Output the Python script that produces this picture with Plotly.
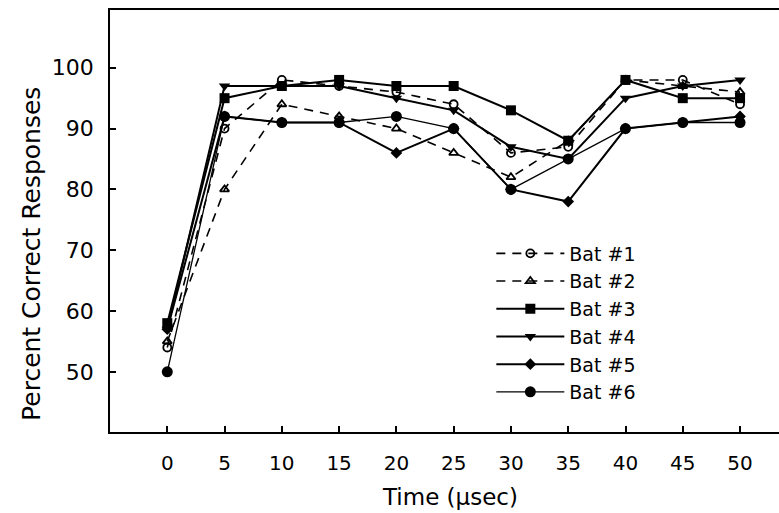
import plotly.graph_objects as go

# Time after onset (microseconds)
time_us = [0, 5, 10, 15, 20, 25, 30, 35, 40, 45, 50]

# Percent correct responses per bat
bat1 = [54, 90, 98, 97, 96, 94, 86, 87, 98, 98, 94]
bat2 = [55, 80, 94, 92, 90, 86, 82, 88, 98, 97, 96]
bat3 = [58, 95, 97, 98, 97, 97, 93, 88, 98, 95, 95]
bat4 = [57, 97, 97, 97, 95, 93, 87, 85, 95, 97, 98]
bat5 = [57, 92, 91, 91, 86, 90, 80, 78, 90, 91, 92]
bat6 = [50, 92, 91, 91, 92, 90, 80, 85, 90, 91, 91]

x_ticks = [0, 5, 10, 15, 20, 25, 30, 35, 40, 45, 50]
y_ticks = [50, 60, 70, 80, 90, 100]

x_title = "Time (μsec)"
y_title = "Percent Correct Responses"

series = [
    ("Bat #1", bat1, "circle-open", "9px,7px", 1.6, 8),
    ("Bat #2", bat2, "triangle-up-open", "9px,7px", 1.6, 8),
    ("Bat #3", bat3, "square", "solid", 2.0, 10),
    ("Bat #4", bat4, "triangle-down", "solid", 2.0, 10),
    ("Bat #5", bat5, "diamond", "solid", 2.0, 9),
    ("Bat #6", bat6, "circle", "solid", 1.3, 11),
]

fig = go.Figure()
for name, vals, sym, dash, lw, ms in series:
    fig.add_trace(go.Scatter(
        x=time_us, y=vals, name=name, mode="lines+markers",
        line=dict(color="black", width=lw, dash=dash),
        marker=dict(symbol=sym, size=ms, color="black",
                    line=dict(color="black", width=1.8 if "open" in sym else 0)),
    ))

font_family = "DejaVu Sans, sans-serif"

fig.update_layout(
    width=779, height=513,
    margin=dict(l=110, r=0, t=10, b=81),
    paper_bgcolor="white", plot_bgcolor="white",
    font=dict(family=font_family, color="black", size=20),
    showlegend=True,
    legend=dict(
        x=0.57, y=0.468, xanchor="left", yanchor="top",
        bgcolor="rgba(0,0,0,0)", borderwidth=0,
        font=dict(size=19, family=font_family),
        itemwidth=68, tracegroupgap=0,
    ),
    xaxis=dict(
        range=[-5, 53.4], tickmode="array", tickvals=x_ticks,
        ticks="inside", ticklen=6, tickwidth=1.5, tickcolor="black",
        showline=True, linecolor="black", linewidth=1.5, mirror=True,
        showgrid=False, zeroline=False,
        tickfont=dict(size=20), ticklabelstandoff=12,
    ),
    yaxis=dict(
        range=[40.1, 109.5], tickmode="array", tickvals=y_ticks,
        ticks="inside", ticklen=6, tickwidth=1.5, tickcolor="black",
        showline=True, linecolor="black", linewidth=1.5, mirror=False,
        showgrid=False, zeroline=False,
        tickfont=dict(size=22), ticklabelstandoff=10,
    ),
    annotations=[
        dict(text=x_title, xref="paper", yref="paper", x=0.508, y=-0.154,
             xanchor="center", yanchor="middle", showarrow=False,
             font=dict(size=23, family=font_family)),
        dict(text=y_title, xref="paper", yref="paper", x=-0.1166, y=0.422,
             xanchor="center", yanchor="middle", textangle=-90, showarrow=False,
             font=dict(size=25, family=font_family)),
    ],
)

fig.write_html("out.html")
